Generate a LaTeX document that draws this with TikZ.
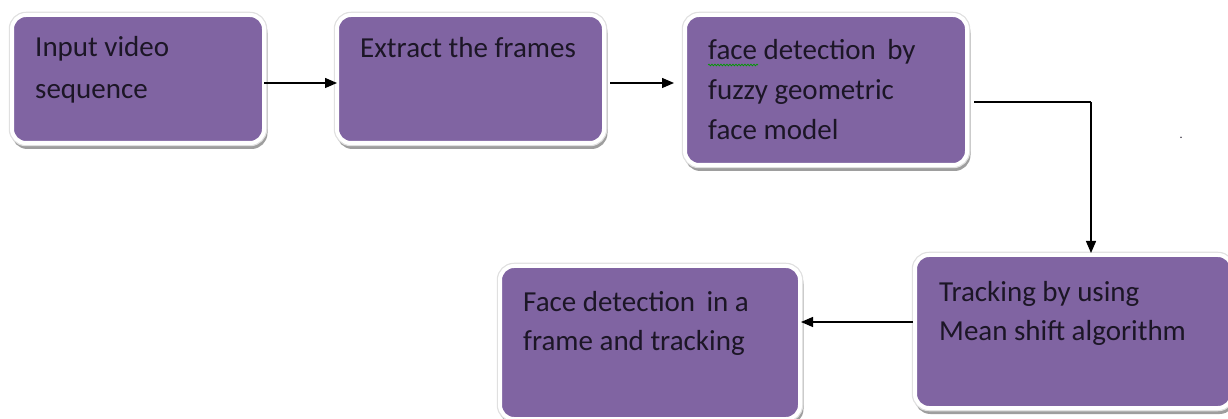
\documentclass[tikz,border=0pt]{standalone}
\usepackage{fontspec}
\setmainfont{Carlito}
\usetikzlibrary{arrows.meta,decorations.pathmorphing}
\definecolor{boxpurple}{HTML}{8064A2}
\definecolor{txt}{HTML}{1C1626}
\tikzset{
  box/.style={rectangle, rounded corners=14pt, fill=boxpurple, draw=white, line width=4pt,
    inner sep=0pt, outer sep=0pt,
    preaction={draw=black!38, fill=black!38, line width=4pt, transform canvas={xshift=1.5pt,yshift=-4pt}},
    preaction={draw=black!12, line width=6.5pt}},
  lbl/.style={anchor=base west, inner sep=0pt, text=txt, font=\fontsize{29}{35}\selectfont},
  arr/.style={draw=black, line width=1.3pt, -{Triangle[length=12pt,width=10pt]}},
  con/.style={draw=black, line width=1.3pt}
}
\begin{document}
\begin{tikzpicture}[x=1pt,y=-1pt]
\useasboundingbox (0,0) rectangle (1228,419);
% boxes
\node[box, minimum width=252pt, minimum height=128pt] (b1) at (138,79) {};
\node[box, minimum width=267pt, minimum height=128pt] (b2) at (470.5,79) {};
\node[box, minimum width=282pt, minimum height=150pt] (b3) at (826,90) {};
\node[box, minimum width=317pt, minimum height=153pt] (b4) at (1073.5,331.5) {};
\node[box, minimum width=300pt, minimum height=153pt] (b5) at (650,342.5) {};
% texts
\node[lbl] (t1a) at (35,57) {Input video};
\node[lbl] (t1b) at (35,99) {sequence};
\node[lbl] (t2a) at (360,58) {Extract the frames};
\node[lbl] (t3a) at (708,60) {face detection\, by};
\node[lbl] (t3b) at (708,100) {fuzzy geometric};
\node[lbl] (t3c) at (708,140) {face model};
\node[lbl] (t4a) at (939,302) {Tracking by using};
\node[lbl] (t4b) at (939,341) {Mean shift algorithm};
\node[lbl] (t5a) at (523,312) {Face detection\, in a};
\node[lbl] (t5b) at (523,350) {frame and tracking};
% spell-check squiggle under "face"
\coordinate (sq1) at (708,65);
\coordinate (sq2) at (758,65);
\draw[green!60!black, line width=0.7pt, decorate, decoration={snake, amplitude=0.9pt, segment length=3pt}] (sq1) -- (sq2);
% stray dot
\node[inner sep=0pt, text=txt, font=\fontsize{12}{12}\selectfont, anchor=base] (dot) at (1181,139) {.};
% connectors
\draw[arr] ([yshift=-4pt]b1.east) -- ([yshift=-4pt]b2.west);
\draw[arr, shorten <=6pt, shorten >=9pt] ([yshift=-4pt]b2.east) -- ([yshift=-4pt,xshift=-2pt]b3.west |- b2.east);
\coordinate (c3) at (1091,102);
\draw[con] ([yshift=-12pt,xshift=7pt]b3.east) -- (c3);
\draw[arr, shorten >=2pt] (c3) -- (c3 |- b4.north);
\draw[arr] ([yshift=9.5pt,xshift=-2pt]b4.west) -- ([xshift=1pt]b5.east |- 0,322);
\end{tikzpicture}
\end{document}
